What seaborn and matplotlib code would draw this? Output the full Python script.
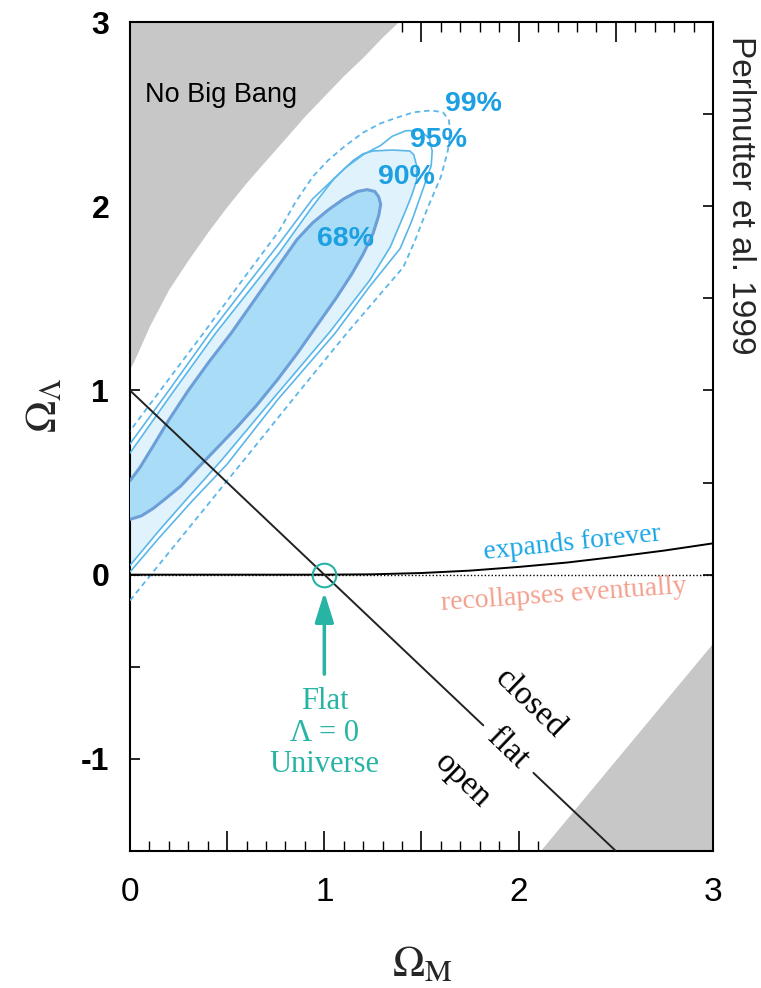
import matplotlib
matplotlib.use("Agg")
import matplotlib.pyplot as plt
from matplotlib.ticker import MultipleLocator, FuncFormatter, NullLocator
import seaborn as sns

# ---- data (Omega_M, Omega_Lambda) ----
# confidence contours
c68_m = [0.00, 0.06, 0.12, 0.18, 0.26, 0.35, 0.45, 0.55, 0.652, 0.76, 0.86, 0.96, 1.06, 1.14,
         1.20, 1.25, 1.28, 1.29, 1.28, 1.26, 1.22, 1.17, 1.10, 1.02, 0.94, 0.86, 0.76, 0.64,
         0.52, 0.41, 0.30, 0.20, 0.12, 0.05, 0.00]
c68_l = [0.30, 0.32, 0.36, 0.41, 0.48, 0.58, 0.69, 0.80, 0.92, 1.06, 1.20, 1.35, 1.50, 1.63,
         1.74, 1.85, 1.95, 2.01, 2.05, 2.08, 2.09, 2.08, 2.04, 1.98, 1.91, 1.82, 1.67, 1.49,
         1.31, 1.16, 1.00, 0.84, 0.70, 0.58, 0.51]

c90_m = [0.00, 0.15, 0.30, 0.47, 0.74, 1.03, 1.235, 1.34, 1.42, 1.45, 1.475, 1.475, 1.46,
         1.44, 1.35, 1.25, 1.20, 1.15, 1.05, 0.94, 0.77, 0.62, 0.44, 0.20, 0.00]
c90_l = [0.05, 0.24, 0.42, 0.62, 0.96, 1.32, 1.60, 1.78, 1.98, 2.06, 2.14, 2.22, 2.28,
         2.30, 2.305, 2.30, 2.285, 2.25, 2.15, 2.00, 1.75, 1.55, 1.31, 0.96, 0.66]

c95_m = [0.00, 0.15, 0.32, 0.50, 0.76, 1.055, 1.23, 1.39, 1.45, 1.51, 1.55, 1.555, 1.54,
         1.49, 1.42, 1.35, 1.29, 1.20, 1.11, 0.94, 0.77, 0.60, 0.41, 0.20, 0.00]
c95_l = [0.015, 0.20, 0.40, 0.60, 0.95, 1.31, 1.56, 1.77, 1.92, 2.10, 2.22, 2.30, 2.37,
         2.41, 2.41, 2.38, 2.33, 2.28, 2.21, 2.04, 1.80, 1.57, 1.31, 1.00, 0.71]

c99_m = [0.00, 0.40, 0.60, 0.875, 1.115, 1.407, 1.467, 1.535, 1.60, 1.635, 1.65, 1.64, 1.61,
         1.55, 1.46, 1.37, 1.29, 1.20, 1.11, 1.02, 0.94, 0.85, 0.77, 0.60, 0.37, 0.17, 0.00]
c99_l = [-0.14, 0.38, 0.64, 1.00, 1.31, 1.67, 1.815, 2.00, 2.16, 2.30, 2.40, 2.47, 2.51,
         2.52, 2.51, 2.48, 2.45, 2.40, 2.33, 2.25, 2.16, 2.02, 1.87, 1.63, 1.30, 1.02, 0.78]

levels = ["68%", "90%", "95%", "99%"]
level_m = [1.11, 1.42, 1.59, 1.765]
level_l = [1.82, 2.16, 2.36, 2.555]

# "No Big Bang" boundary
nobb_m = [0.0, 0.02, 0.05, 0.1, 0.2, 0.3, 0.4, 0.5, 0.6, 0.7, 0.8, 0.9, 1.0, 1.1, 1.2, 1.3, 1.4]
nobb_l = [1.12, 1.16, 1.23, 1.35, 1.55, 1.71, 1.86, 2.00, 2.13, 2.25, 2.37, 2.49, 2.60, 2.71,
          2.81, 2.92, 3.02]

# lower-right excluded region edge
edge_m = [2.11, 3.0]
edge_l = [-1.50, -0.37]

# flat universe line (with a gap for its label)
flat_a_m = [0.0, 1.818]
flat_a_l = [1.0, -0.818]
flat_b_m = [2.076, 2.5]
flat_b_l = [-1.076, -1.5]

# expand / recollapse boundary
exp_m = [0.0, 1.0, 1.25, 1.5, 1.75, 2.0, 2.25, 2.5, 2.75, 3.0]
exp_l = [0.0, 0.0, 0.002, 0.009, 0.022, 0.042, 0.066, 0.097, 0.131, 0.170]

flat_pt_m = [1.0]
flat_pt_l = [0.0]

# ---- styling ----
GRAY = "#c7c7c7"
FILL68 = "#a9ddf7"
EDGE68 = "#6c9ed8"
FILL90 = "#e0f2fb"
EDGE = "#5ab7ea"
LABEL_BLUE = "#1ca0e2"
TEAL = "#27b4a5"
SALMON = "#f3a08e"
SERIF = ["Liberation Serif", "DejaVu Serif"]
SANS = ["Liberation Sans", "DejaVu Sans"]

sns.set_theme(style="white")
plt.rcParams["font.family"] = SANS
plt.rcParams["mathtext.fontset"] = "stix"
plt.rcParams["axes.unicode_minus"] = False

fig = plt.figure(figsize=(7.61, 9.88), dpi=100)
ax = fig.add_axes([130 / 761, 1 - 851 / 988, 583 / 761, 829 / 988])
ax.set_xlim(0, 3)
ax.set_ylim(-1.5, 3)

# excluded regions
ax.fill_between(nobb_m, nobb_l, 3.5, color=GRAY, lw=0, zorder=1)
ax.fill_between(edge_m, edge_l, -1.6, color=GRAY, lw=0, zorder=1)

# contour fills
ax.fill(c90_m, c90_l, color=FILL90, lw=0, zorder=2)
ax.fill(c68_m, c68_l, color=FILL68, lw=0, zorder=3)

# contour outlines
sns.lineplot(x=c99_m, y=c99_l, sort=False, estimator=None, color=EDGE, lw=1.3,
             linestyle=(0, (3, 2.2)), ax=ax, zorder=4)
sns.lineplot(x=c95_m, y=c95_l, sort=False, estimator=None, color=EDGE, lw=1.2, ax=ax, zorder=4)
sns.lineplot(x=c90_m, y=c90_l, sort=False, estimator=None, color=EDGE, lw=1.2, ax=ax, zorder=4)
sns.lineplot(x=c68_m, y=c68_l, sort=False, estimator=None, color=EDGE68, lw=2.2, ax=ax, zorder=5)

for txt, xm, yl in zip(levels, level_m, level_l):
    ax.text(xm, yl, txt, color=LABEL_BLUE, fontsize=20.5, fontweight="bold",
            family=SANS, ha="center", va="center", zorder=6)

# flat line and expansion boundary
sns.lineplot(x=[0.0, 3.0], y=[0.0, 0.0], sort=False, estimator=None, color="black", lw=1.0,
             linestyle=(0, (1, 1.5)), ax=ax, zorder=6)
sns.lineplot(x=exp_m, y=exp_l, sort=False, estimator=None, color="black", lw=1.4, ax=ax, zorder=6)
sns.lineplot(x=flat_a_m, y=flat_a_l, sort=False, estimator=None, color="#222222", lw=1.4, ax=ax, zorder=6)
sns.lineplot(x=flat_b_m, y=flat_b_l, sort=False, estimator=None, color="#222222", lw=1.4, ax=ax, zorder=6)

# flat, Lambda = 0 point
ax.plot(flat_pt_m, flat_pt_l, marker="o", ms=17, mfc="none", mec=TEAL, mew=1.5, ls="none", zorder=7)
ax.annotate("", xy=(1.0, -0.095), xytext=(1.0, -0.54),
            arrowprops=dict(arrowstyle="-|>,head_length=0.7,head_width=0.22", color=TEAL,
                            lw=2.5, mutation_scale=26, shrinkA=0, shrinkB=0), zorder=7)
ax.text(1.0, -0.86, "Flat\nΛ = 0\nUniverse", color=TEAL, fontsize=22, family=SERIF,
        ha="center", va="center", linespacing=1.1, zorder=7)

# region annotations
ax.text(0.077, 2.605, "No Big Bang", fontsize=19.5, family=SANS, color="black",
        ha="left", va="center", zorder=6)
ax.text(2.275, 0.17, "expands forever", color="#1ba6e6", fontsize=20, family=SERIF,
        rotation=6, ha="center", va="center", zorder=7)
ax.text(2.23, -0.11, "recollapses eventually", color=SALMON, fontsize=20, family=SERIF,
        rotation=4, ha="center", va="center", zorder=7)
for txt, xm, yl in [("closed", 2.06, -0.70), ("flat", 1.945, -0.945), ("open", 1.71, -1.12)]:
    ax.text(xm, yl, txt, fontsize=24, family=SERIF, color="black", rotation=-44,
            rotation_mode="anchor", ha="center", va="center", zorder=7)

# axes, ticks
for sp in ax.spines.values():
    sp.set_color("black")
    sp.set_linewidth(1.5)

int_fmt = FuncFormatter(lambda v, p: f"{v:.0f}" if abs(v - round(v)) < 1e-6 else "")
ax.xaxis.set_major_locator(MultipleLocator(0.5))
ax.xaxis.set_minor_locator(MultipleLocator(0.1))
ax.xaxis.set_major_formatter(int_fmt)
ax.yaxis.set_major_locator(MultipleLocator(0.5))
ax.yaxis.set_minor_locator(NullLocator())
ax.yaxis.set_major_formatter(int_fmt)
ax.tick_params(axis="x", which="major", direction="in", length=14.4, width=1.2,
               top=True, bottom=True, labelsize=24, pad=19, colors="black")
ax.tick_params(axis="x", which="minor", direction="in", length=7.2, width=1.0,
               top=True, bottom=True, colors="black")
ax.tick_params(axis="y", which="major", direction="in", length=7.5, width=1.2,
               left=True, right=True, labelsize=23, pad=15, colors="black")
for lab in ax.get_yticklabels():
    lab.set_fontweight("bold")

fig.text(422 / 761, 1 - 965 / 988, r"$\Omega_{\mathrm{M}}$", fontsize=31,
         ha="center", va="center")
fig.text(45 / 761, 1 - 405 / 988, r"$\Omega_{\Lambda}$", fontsize=31,
         ha="center", va="center", rotation=90)
fig.text(740 / 761, 1 - 195 / 988, "Perlmutter et al. 1999", fontsize=24, family=SANS,
         ha="center", va="center", rotation=-90)

fig.savefig("out.png", dpi=100)
